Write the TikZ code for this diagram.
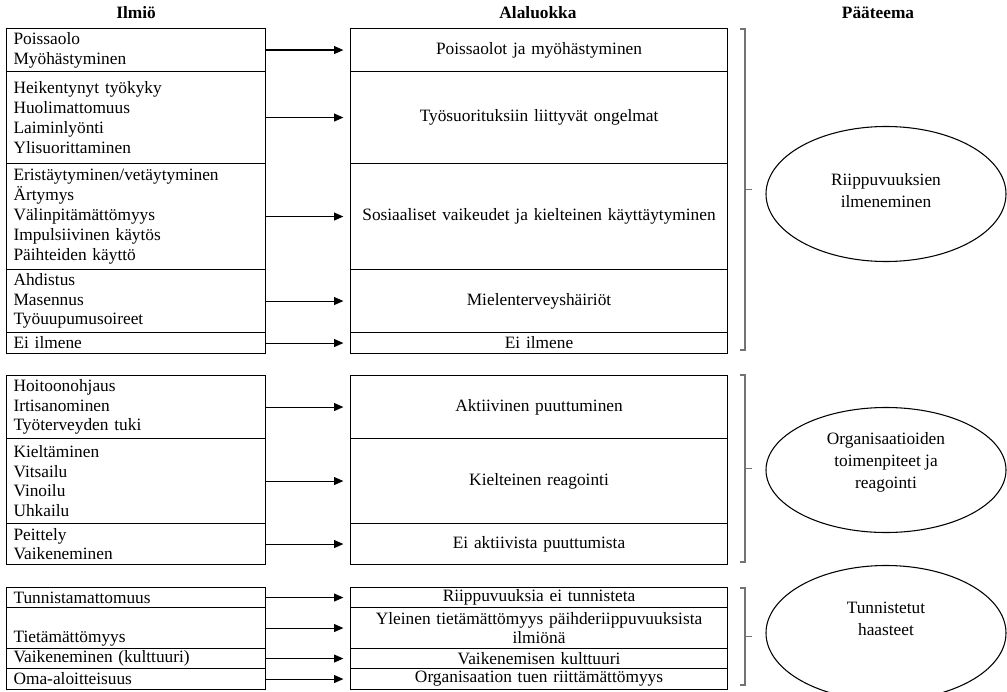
\documentclass[tikz,border=0pt]{standalone}
\usepackage{fontspec}
\setmainfont{Liberation Serif}
\usetikzlibrary{shapes.geometric,arrows.meta}
\newcommand\pxu{0.75pt}
\begin{document}
\begin{tikzpicture}[x=0.75pt,y=-0.75pt,
  font=\fontsize{13}{14.85}\selectfont,
  cell/.style={draw, line width=0.8pt, rectangle, inner ysep=0pt, anchor=north west},
  lcell/.style={cell, inner xsep=7*\pxu, text width=245*\pxu, align=left, minimum width=259*\pxu},
  mcell/.style={cell, inner xsep=5*\pxu, text width=367*\pxu, align=center, minimum width=377*\pxu},
  arr/.style={line width=0.8pt, -{Triangle[length=7pt,width=6pt]}, shorten >=5pt},
  brk/.style={draw=black!55, line width=1pt},
  theme/.style={draw, ellipse, line width=0.8pt, minimum width=240*\pxu, inner sep=0pt},
  head/.style={font=\fontsize{13}{14.85}\selectfont\bfseries, anchor=base},
  ttext/.style={align=center, inner sep=0pt, font=\fontsize{13}{16.5}\selectfont}
]
\useasboundingbox (0,0) rectangle (1007,692);

% headers
\node[head] (h1) at (136,19) {Ilmiö};
\node[head] (h2) at (538,19) {Alaluokka};
\node[head] (h3) at (878,19) {Pääteema};

% group 1
\node[lcell, minimum height=43*\pxu]  (L1) at (6,28)  {Poissaolo\\Myöhästyminen};
\node[lcell, minimum height=92*\pxu]  (L2) at (6,71)  {Heikentynyt työkyky\\Huolimattomuus\\Laiminlyönti\\Ylisuorittaminen};
\node[lcell, minimum height=106*\pxu] (L3) at (6,163) {Eristäytyminen/vetäytyminen\\Ärtymys\\Välinpitämättömyys\\Impulsiivinen käytös\\Päihteiden käyttö};
\node[lcell, minimum height=63*\pxu]  (L4) at (6,269) {Ahdistus\\Masennus\\Työuupumusoireet};
\node[lcell, minimum height=21*\pxu]  (L5) at (6,332) {Ei ilmene};

\node[mcell, minimum height=43*\pxu]  (M1) at (350,28)  {Poissaolot ja myöhästyminen};
\node[mcell, minimum height=92*\pxu]  (M2) at (350,71)  {Työsuorituksiin liittyvät ongelmat};
\node[mcell, minimum height=106*\pxu] (M3) at (350,163) {Sosiaaliset vaikeudet ja kielteinen käyttäytyminen};
\node[mcell, minimum height=63*\pxu]  (M4) at (350,269) {Mielenterveyshäiriöt};
\node[mcell, minimum height=21*\pxu]  (M5) at (350,332) {Ei ilmene};

% group 2
\node[lcell, minimum height=63*\pxu] (L6) at (6,375) {Hoitoonohjaus\\Irtisanominen\\Työterveyden tuki};
\node[lcell, minimum height=85*\pxu] (L7) at (6,438) {Kieltäminen\\Vitsailu\\Vinoilu\\Uhkailu};
\node[lcell, minimum height=41*\pxu] (L8) at (6,523) {Peittely\\Vaikeneminen};

\node[mcell, minimum height=63*\pxu] (M6) at (350,375) {Aktiivinen puuttuminen};
\node[mcell, minimum height=85*\pxu] (M7) at (350,438) {Kielteinen reagointi};
\node[mcell, minimum height=41*\pxu] (M8) at (350,523) {Ei aktiivista puuttumista};

% group 3
\node[lcell, minimum height=20*\pxu] (L9)  at (6,587) {Tunnistamattomuus};
\node[lcell, minimum height=41*\pxu] (L10) at (6,607) {\strut\\Tietämättömyys};
\node[lcell, minimum height=20*\pxu] (L11) at (6,648) {Vaikeneminen (kulttuuri)};
\node[lcell, minimum height=21*\pxu] (L12) at (6,668) {Oma-aloitteisuus};

\node[mcell, minimum height=20*\pxu] (M9)  at (350,587) {Riippuvuuksia ei tunnisteta};
\node[mcell, minimum height=41*\pxu] (M10) at (350,607) {Yleinen tietämättömyys päihderiippuvuuksista\\ilmiönä};
\node[mcell, minimum height=20*\pxu] (M11) at (350,648) {Vaikenemisen kulttuuri};
\node[mcell, minimum height=21*\pxu] (M12) at (350,668) {Organisaation tuen riittämättömyys};

% arrows
\foreach \i in {1,...,12}{
  \draw[arr] (L\i.east) -- (L\i.east -| M\i.west);
}

% brackets
\coordinate (B1t) at (745,29);  \coordinate (B1b) at (745,350); \coordinate (B1m) at (745,189.5);
\coordinate (B2t) at (745,375); \coordinate (B2b) at (745,562); \coordinate (B2m) at (745,468.5);
\coordinate (B3t) at (745,588); \coordinate (B3b) at (745,685); \coordinate (B3m) at (745,636.5);
\foreach \k in {1,2,3}{
  \draw[brk] ([xshift=-3.5pt]B\k t) -- (B\k t) -- (B\k b) -- ([xshift=-3.5pt]B\k b);
  \draw[brk] (B\k m) -- ([xshift=5pt]B\k m);
}

% themes
\node[theme, minimum height=135*\pxu] (E1) at (886,194) {};
\node[ttext] (E1t) at (886,191) {Riippuvuuksien\\ilmeneminen};
\node[theme, minimum height=125*\pxu] (E2) at (886,470) {};
\node[ttext] (E2t) at (886,462) {Organisaatioiden\\toimenpiteet ja\\reagointi};
\node[theme, minimum height=135*\pxu] (E3) at (886,633) {};
\node[ttext] (E3t) at (886,619) {Tunnistetut\\haasteet};
\end{tikzpicture}
\end{document}
